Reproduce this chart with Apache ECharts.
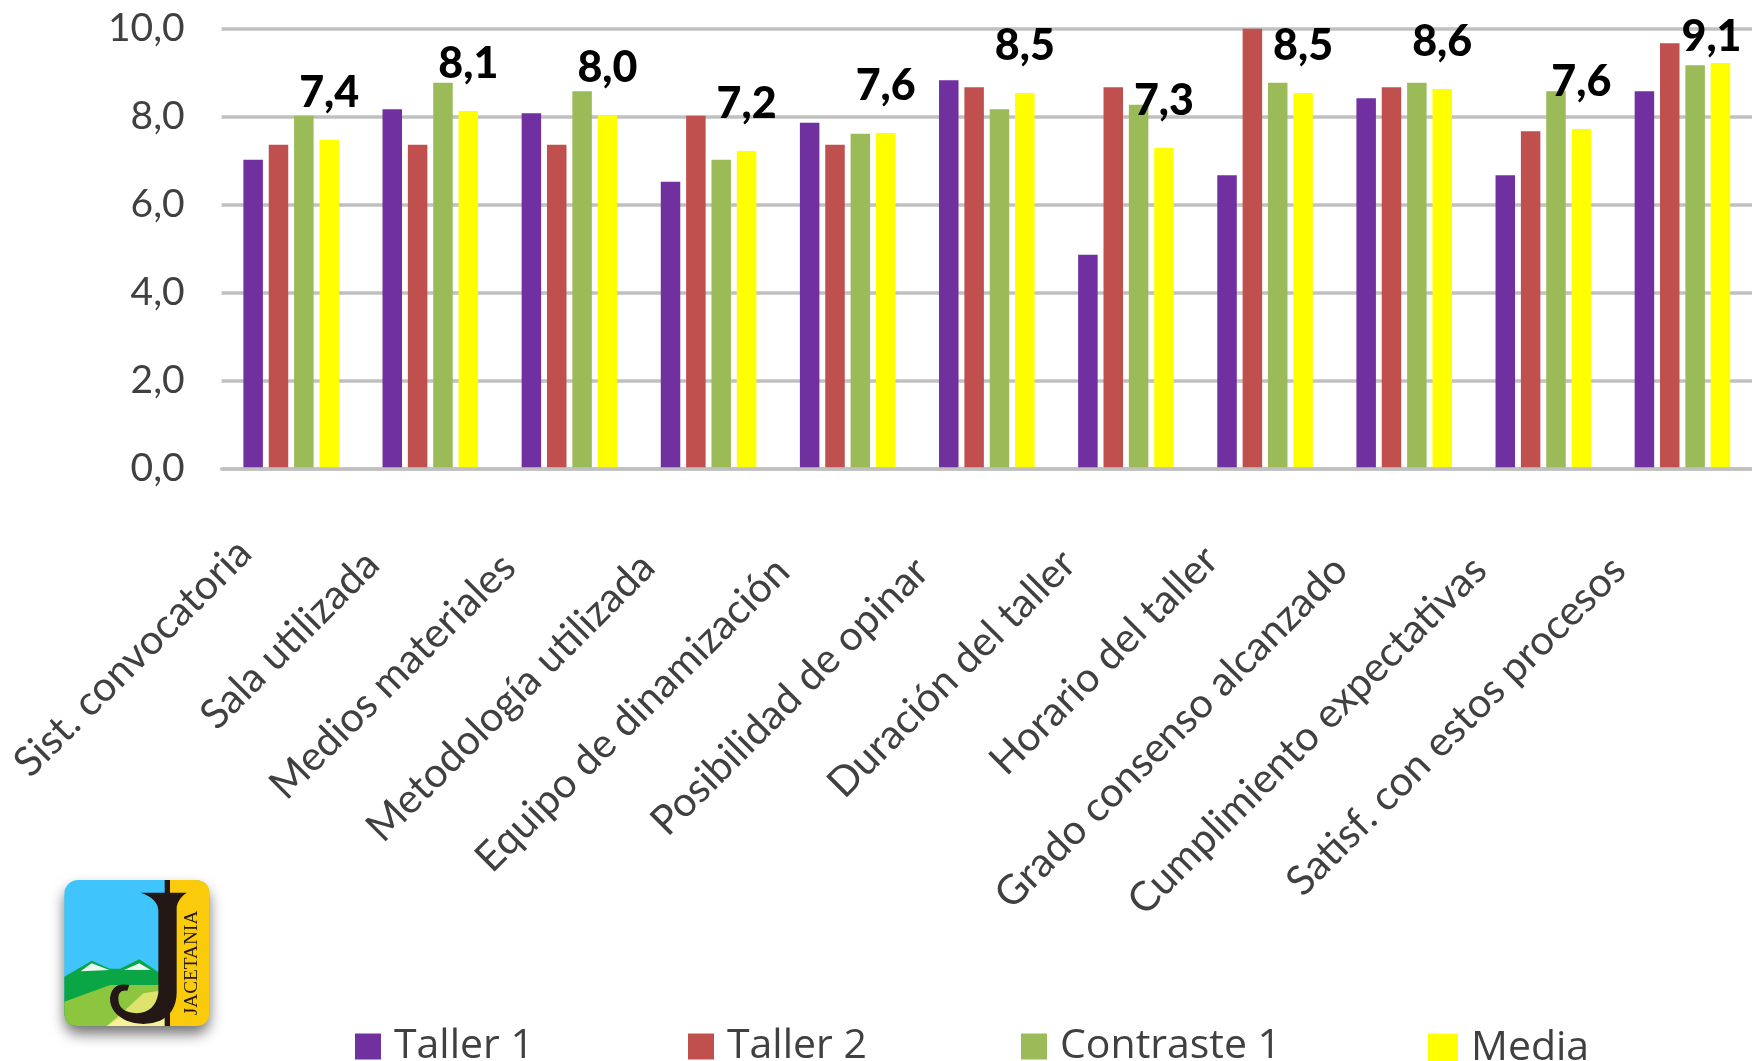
<!DOCTYPE html>
<html>
<head>
<meta charset="utf-8">
<script src="https://cdn.jsdelivr.net/npm/echarts@6/dist/echarts.min.js"></script>
<style>html,body{margin:0;padding:0;background:#fff;overflow:hidden}#c{width:1752px;height:1061px}</style>
</head>
<body>
<div id="c"></div>
<script>
const categories = ['Sist. convocatoria','Sala utilizada','Medios materiales','Metodología utilizada','Equipo de dinamización','Posibilidad de opinar','Duración del taller','Horario del taller','Grado consenso alcanzado','Cumplimiento expectativas','Satisf. con estos procesos'];
const taller1 = [7.02,8.17,8.08,6.52,7.86,8.83,4.86,6.67,8.42,6.67,8.58];
const taller2 = [7.36,7.36,7.36,8.02,7.36,8.67,8.67,10.0,8.67,7.67,9.67];
const contraste1 = [8.02,8.77,8.58,7.02,7.61,8.17,8.27,8.77,8.77,8.58,9.17];
const media = [7.47,8.13,8.04,7.22,7.63,8.54,7.29,8.54,8.63,7.72,9.22];
const mediaLabels = ['7,4','8,1','8,0','7,2','7,6','8,5','7,3','8,5','8,6','7,6','9,1'];
const yTicks = {min:0,max:10,interval:2};
const FONT = 'Lato';
const TXT = '#404040';
const labelNudge = [0,16,20,20,26,26,15,10,24,24,24];

const logoPaths = {
  lgHills:'M43 320 L125 272 L180 296 L210 296 L268 268 L345 320 L345 468 L85 468 Q43 468 43 426 Z',
  lgField:'M43 395 L180 345 L345 345 L345 468 L85 468 Q43 468 43 426 Z',
  lgPale:'M215 430 L280 370 L345 360 L345 468 L170 468 Z',
  lgPaler:'M170 468 L215 440 L345 430 L345 468 Z',
  lgStrip:'M360 30 H436 Q478 30 478 72 V426 Q478 468 436 468 H360 Z',
  lgJ:'M272 68 H410 Q385 85 380 110 V370 Q378 430 330 452 Q280 472 230 452 Q180 430 180 385 Q185 335 238 345 L232 362 Q205 358 205 385 Q205 428 260 430 Q315 428 325 370 V120 Q322 85 272 68 Z'
};
Object.keys(logoPaths).forEach(k=>echarts.graphic.registerShape(k,echarts.graphic.extendPath(logoPaths[k])));

const chart = echarts.init(document.getElementById('c'),null,{renderer:'canvas'});
function bar(name,data,color,extra){
  return Object.assign({name,type:'bar',data,barWidth:19.5,barGap:'30%',itemStyle:{color},animation:false},extra||{});
}
const labelBase = {fontFamily:FONT,fontSize:41,color:TXT};
const legendText = {fontFamily:'Open Sans',fontSize:41,color:TXT};
function legendItem(name,left,top,size,pad){
  return {data:[name],left,top,itemWidth:size,itemHeight:size,icon:'rect',padding:0,
    textStyle:Object.assign({},legendText,{padding:[pad,0,0,8]})};
}
chart.setOption({
  animation:false,
  backgroundColor:'#fff',
  grid:{left:221.6,top:28.7,width:1531,height:440,containLabel:false},
  legend:[
    legendItem('Taller 1',355,1026,26,12),
    legendItem('Taller 2',688,1026,26,12),
    legendItem('Contraste 1',1021,1026,26,12),
    legendItem('Media',1428,1028,30,8)
  ],
  xAxis:{type:'category',
    data:categories.map((c,i)=>({value:c,textStyle:Object.assign({},labelBase,{padding:[0,66+labelNudge[i],0,0]})})),
    z:3,
    axisLine:{show:true,lineStyle:{color:'#c0c0c0',width:3.5}},
    axisTick:{show:false},
    axisLabel:Object.assign({interval:0,rotate:45,margin:31,hideOverlap:false},labelBase)},
  yAxis:{type:'value',min:yTicks.min,max:yTicks.max,interval:yTicks.interval,
    axisLine:{show:false},axisTick:{show:false},
    splitLine:{lineStyle:{color:'#c0c0c0',width:3.5}},
    axisLabel:{margin:37,fontFamily:FONT,fontSize:39,color:TXT,formatter:v=>v.toFixed(1).replace('.',',')}},
  series:[
    bar('Taller 1',taller1,'#7030a0'),
    bar('Taller 2',taller2,'#c0504d'),
    bar('Contraste 1',contraste1,'#9bbb59'),
    bar('Media',media.map((v,i)=> i===media.length-1 ? {value:v,label:{offset:[-9,21]}} : v),'#ffff00',{
      label:{show:true,position:'top',distance:25,fontFamily:FONT,fontWeight:900,fontSize:43,color:'#000',
        formatter:p=>mediaLabels[p.dataIndex]}
    })
  ],
  graphic:[{
    type:'group',x:50,y:870,scaleX:1/3,scaleY:1/3,silent:true,
    children:[
      {type:'rect',shape:{x:43,y:30,width:435,height:438,r:42},style:{fill:'#3fc4fb',shadowBlur:14,shadowColor:'rgba(0,0,0,0.55)',shadowOffsetY:8}},
      {type:'lgHills',style:{fill:'#0aa646'}},
      {type:'lgField',style:{fill:'#8cc63f'}},
      {type:'lgPale',style:{fill:'#dde36b'}},
      {type:'lgPaler',style:{fill:'#f5f29a'}},
      {type:'polygon',shape:{points:[[92,304],[125,280],[178,300]]},style:{fill:'#eafaf0'}},
      {type:'polygon',shape:{points:[[222,300],[268,280],[302,300]]},style:{fill:'#eafaf0'}},
      {type:'lgStrip',style:{fill:'#f9cb0a'}},
      {type:'rect',shape:{x:344,y:30,width:16,height:438},style:{fill:'#231815'}},
      {type:'lgJ',style:{fill:'#231815'}},
      {type:'text',x:398,y:436,rotation:Math.PI/2,style:{text:'JACETANIA',font:'58px "Liberation Serif"',fill:'#231815',textVerticalAlign:'top'}}
    ]
  }]
});
</script>
</body>
</html>
